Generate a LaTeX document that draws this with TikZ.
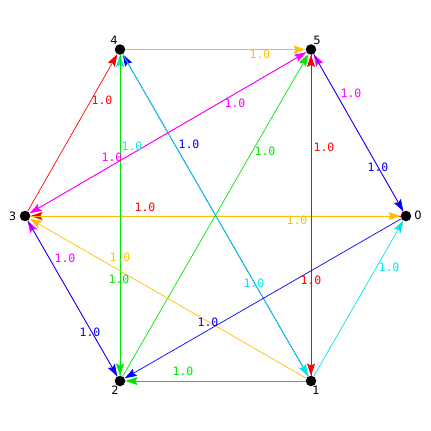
\documentclass[tikz,border=0pt]{standalone}
\usepackage{fontspec}
\setmonofont{DejaVu Sans Mono}
\newfontfamily\nodefont{DejaVu Sans}
\usetikzlibrary{arrows.meta}
\definecolor{cOr}{RGB}{255,192,0}
\definecolor{cRd}{RGB}{255,0,0}
\definecolor{cBl}{RGB}{0,0,255}
\definecolor{cGr}{RGB}{0,230,0}
\definecolor{cCy}{RGB}{0,230,230}
\definecolor{cMg}{RGB}{255,0,255}
\tikzset{
  vert/.style={circle,fill=black,minimum size=10.5pt,inner sep=0pt},
  vlab/.style={font=\nodefont\fontsize{11.5}{13}\selectfont,inner sep=0pt},
  edge/.style={line width=0.7pt,-{Stealth[length=12pt,width=8pt,inset=2pt]}},
  elab/.style={font=\ttfamily\fontsize{11.5}{13}\selectfont,inner sep=0pt}
}
\begin{document}
\begin{tikzpicture}[x=1pt,y=-1pt]
\useasboundingbox (0,0) rectangle (431,431);
\node[vert] (n0) at (406,216) {};
\node[vert] (n1) at (311,381) {};
\node[vert] (n2) at (120,381) {};
\node[vert] (n3) at (25,216) {};
\node[vert] (n4) at (120,49.5) {};
\node[vert] (n5) at (311,49.5) {};
\node[vlab] (t0) at (418,215) {0};
\node[vlab] (t1) at (316,390) {1};
\node[vlab] (t2) at (115,390) {2};
\node[vlab] (t3) at (12.5,216) {3};
\node[vlab] (t4) at (114,40) {4};
\node[vlab] (t5) at (317,40) {5};
% edges
\draw[edge,cRd] (n0) -- (n3);
\draw[edge,cOr] (n3) -- (n0);
\draw[edge,cMg] (n0) -- (n5);
\draw[edge,cBl] (n5) -- (n0);
\draw[edge,cCy] (n2) -- (n4);
\draw[edge,cGr] (n4) -- (n2);
\draw[edge,cBl] (n1) -- (n4);
\draw[edge,cCy] (n4) -- (n1);
\draw[edge,cMg] (n2) -- (n3);
\draw[edge,cBl] (n3) -- (n2);
\draw[edge,cRd] (n1) -- (n5);
\draw[edge,cRd] (n5) -- (n1);
\draw[edge,cMg] (n3) -- (n5);
\draw[edge,cMg] (n5) -- (n3);
\draw[edge,cOr] (n4) -- (n5);
\draw[edge,cCy] (n1) -- (n0);
\draw[edge,cGr] (n1) -- (n2);
\draw[edge,cBl] (n0) -- (n2);
\draw[edge,cRd] (n3) -- (n4);
\draw[edge,cGr] (n2) -- (n5);
\draw[edge,cOr] (n1) -- (n3);
% labels
\node[elab,cOr] (l45) at (260,54) {1.0};
\node[elab,cOr] (l30) at (297,220) {1.0};
\node[elab,cRd] (l03) at (145,207) {1.0};
\node[elab,cMg] (l05) at (351,93) {1.0};
\node[elab,cBl] (l50) at (378,167) {1.0};
\node[elab,cCy] (l10) at (389,267) {1.0};
\node[elab,cRd] (l15) at (324,147) {1.0};
\node[elab,cRd] (l51) at (311,280) {1.0};
\node[elab,cGr] (l12) at (183,371) {1.0};
\node[elab,cBl] (l02) at (208,322) {1.0};
\node[elab,cBl] (l32) at (90,332) {1.0};
\node[elab,cMg] (l23) at (65,258) {1.0};
\node[elab,cRd] (l34) at (102,100) {1.0};
\node[elab,cMg] (l35) at (235,103) {1.0};
\node[elab,cMg] (l53) at (112,157) {1.0};
\node[elab,cGr] (l42) at (119,279) {1.0};
\node[elab,cCy] (l24) at (132,146) {1.0};
\node[elab,cBl] (l14) at (189,144) {1.0};
\node[elab,cCy] (l41) at (254,283) {1.0};
\node[elab,cGr] (l25) at (265,151) {1.0};
\node[elab,cOr] (l13) at (120,257) {1.0};
\end{tikzpicture}
\end{document}
